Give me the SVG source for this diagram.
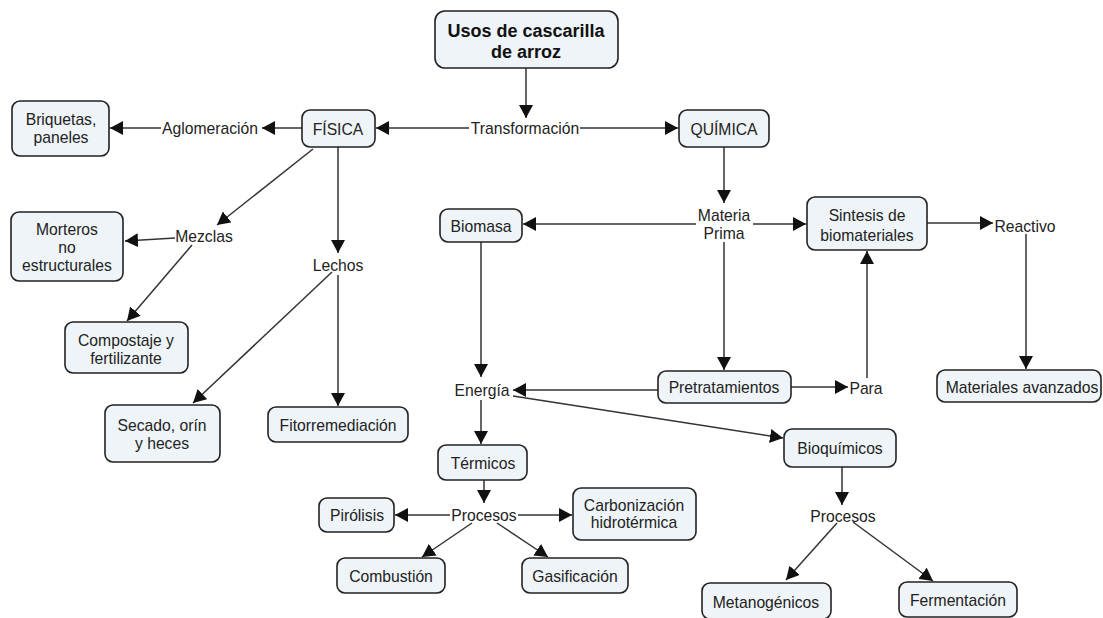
<svg xmlns="http://www.w3.org/2000/svg" width="1103" height="618" viewBox="0 0 1103 618">
<defs>
<marker id="ah" markerUnits="userSpaceOnUse" markerWidth="14" markerHeight="14" refX="13" refY="7" orient="auto">
<path d="M0,0 L13,7 L0,14 z" fill="#111"/>
</marker>
<style>
.box{fill:#eef4f7;stroke:#222;stroke-width:1.6}
.t{font-family:"Liberation Sans",Arial,sans-serif;font-size:15.7px;fill:#222;text-anchor:middle;dominant-baseline:central}
.title{font-family:"Liberation Sans",Arial,sans-serif;font-size:18px;font-weight:bold;fill:#111;text-anchor:middle;dominant-baseline:central}
.c line{stroke:#333;stroke-width:1.5;fill:none}
.c line.a{marker-end:url(#ah)}
</style>
</defs>
<rect width="1103" height="618" fill="#fff"/>
<g class="c" id="connectors">
<line class="a" x1="526" y1="68" x2="526" y2="118"/>
<line class="a" x1="469" y1="128" x2="376" y2="128"/>
<line class="a" x1="580" y1="128" x2="678" y2="128"/>
<line class="a" x1="302" y1="128" x2="262" y2="128"/>
<line class="a" x1="161" y1="128" x2="110" y2="128"/>
<line class="a" x1="313" y1="149" x2="217" y2="225"/>
<line class="a" x1="175" y1="238" x2="125" y2="241"/>
<line class="a" x1="192" y1="245" x2="127" y2="321"/>
<line class="a" x1="338" y1="147" x2="338" y2="253"/>
<line class="a" x1="332" y1="272" x2="193" y2="403"/>
<line class="a" x1="338" y1="275" x2="338" y2="406"/>
<line class="a" x1="724" y1="147" x2="724" y2="203"/>
<line class="a" x1="696" y1="224" x2="523" y2="224"/>
<line class="a" x1="753" y1="224" x2="806" y2="224"/>
<line class="a" x1="724" y1="242" x2="724" y2="370"/>
<line class="a" x1="927" y1="223" x2="993" y2="223"/>
<line class="a" x1="1026" y1="234" x2="1026" y2="369"/>
<line class="a" x1="791" y1="387" x2="848" y2="387"/>
<line class="a" x1="867" y1="378" x2="867" y2="251"/>
<line class="a" x1="658" y1="390" x2="513" y2="390"/>
<line class="a" x1="481" y1="242" x2="481" y2="377"/>
<line class="a" x1="513" y1="396" x2="783" y2="438"/>
<line class="a" x1="481" y1="400" x2="481" y2="444"/>
<line class="a" x1="484" y1="480" x2="484" y2="503"/>
<line class="a" x1="450" y1="515" x2="395" y2="515"/>
<line class="a" x1="518" y1="515" x2="572" y2="515"/>
<line class="a" x1="472" y1="523" x2="422" y2="557"/>
<line class="a" x1="497" y1="523" x2="548" y2="557"/>
<line class="a" x1="842" y1="467" x2="842" y2="505"/>
<line class="a" x1="837" y1="523" x2="786" y2="580"/>
<line class="a" x1="853" y1="522" x2="933" y2="581"/>
</g>
<g id="n-title"><rect class="box" x="435" y="11" width="183" height="57" rx="10" stroke-width="2"/><text class="title" x="526" y="31">Usos de cascarilla</text><text class="title" x="526" y="52">de arroz</text></g>
<g id="n-transformacion"><text class="t" x="525" y="128">Transformación</text></g>
<g id="n-fisica"><rect class="box" x="302" y="110" width="73" height="37" rx="8"/><text class="t" x="338" y="129">FÍSICA</text></g>
<g id="n-quimica"><rect class="box" x="679" y="110" width="90" height="37" rx="8"/><text class="t" x="724" y="129">QUÍMICA</text></g>
<g id="n-aglomeracion"><text class="t" x="210" y="128">Aglomeración</text></g>
<g id="n-briquetas"><rect class="box" x="12" y="101" width="97" height="55" rx="8"/><text class="t" x="61" y="119">Briquetas,</text><text class="t" x="61" y="137">paneles</text></g>
<g id="n-mezclas"><text class="t" x="204" y="236">Mezclas</text></g>
<g id="n-morteros"><rect class="box" x="11" y="212" width="112" height="69" rx="8"/><text class="t" x="67" y="229">Morteros</text><text class="t" x="67" y="247">no</text><text class="t" x="67" y="265">estructurales</text></g>
<g id="n-compostaje"><rect class="box" x="65" y="322" width="123" height="51" rx="8"/><text class="t" x="126" y="340">Compostaje y</text><text class="t" x="126" y="358">fertilizante</text></g>
<g id="n-lechos"><text class="t" x="338" y="265">Lechos</text></g>
<g id="n-secado"><rect class="box" x="105" y="405" width="115" height="57" rx="8"/><text class="t" x="162" y="425">Secado, orín</text><text class="t" x="162" y="443">y heces</text></g>
<g id="n-fitorremediacion"><rect class="box" x="268" y="407" width="140" height="35" rx="8"/><text class="t" x="338" y="425">Fitorremediación</text></g>
<g id="n-materia"><text class="t" x="724" y="215">Materia</text><text class="t" x="724" y="233">Prima</text></g>
<g id="n-biomasa"><rect class="box" x="440" y="209" width="82" height="33" rx="8"/><text class="t" x="481" y="226">Biomasa</text></g>
<g id="n-sintesis"><rect class="box" x="807" y="197" width="120" height="53" rx="8"/><text class="t" x="867" y="215">Sintesis de</text><text class="t" x="867" y="235">biomateriales</text></g>
<g id="n-reactivo"><text class="t" x="1025" y="226">Reactivo</text></g>
<g id="n-materiales"><rect class="box" x="937" y="370" width="164" height="32" rx="8"/><text class="t" x="1022" y="387">Materiales avanzados</text></g>
<g id="n-pretratamientos"><rect class="box" x="658" y="371" width="133" height="32" rx="8"/><text class="t" x="724" y="387">Pretratamientos</text></g>
<g id="n-para"><text class="t" x="866" y="388">Para</text></g>
<g id="n-energia"><text class="t" x="482" y="390">Energía</text></g>
<g id="n-bioquimicos"><rect class="box" x="784" y="429" width="112" height="38" rx="8"/><text class="t" x="840" y="448">Bioquímicos</text></g>
<g id="n-termicos"><rect class="box" x="438" y="445" width="89" height="35" rx="8"/><text class="t" x="483" y="463">Térmicos</text></g>
<g id="n-procesos1"><text class="t" x="484" y="515">Procesos</text></g>
<g id="n-pirolisis"><rect class="box" x="319" y="498" width="75" height="34" rx="8"/><text class="t" x="357" y="515">Pirólisis</text></g>
<g id="n-carbonizacion"><rect class="box" x="573" y="488" width="123" height="52" rx="8"/><text class="t" x="634" y="505">Carbonización</text><text class="t" x="634" y="522">hidrotérmica</text></g>
<g id="n-combustion"><rect class="box" x="337" y="558" width="108" height="35" rx="8"/><text class="t" x="391" y="576">Combustión</text></g>
<g id="n-gasificacion"><rect class="box" x="522" y="558" width="106" height="35" rx="8"/><text class="t" x="575" y="576">Gasificación</text></g>
<g id="n-procesos2"><text class="t" x="843" y="516">Procesos</text></g>
<g id="n-metanogenicos"><rect class="box" x="702" y="583" width="129" height="36" rx="8"/><text class="t" x="766" y="602">Metanogénicos</text></g>
<g id="n-fermentacion"><rect class="box" x="899" y="582" width="118" height="35" rx="8"/><text class="t" x="958" y="600">Fermentación</text></g>
</svg>
